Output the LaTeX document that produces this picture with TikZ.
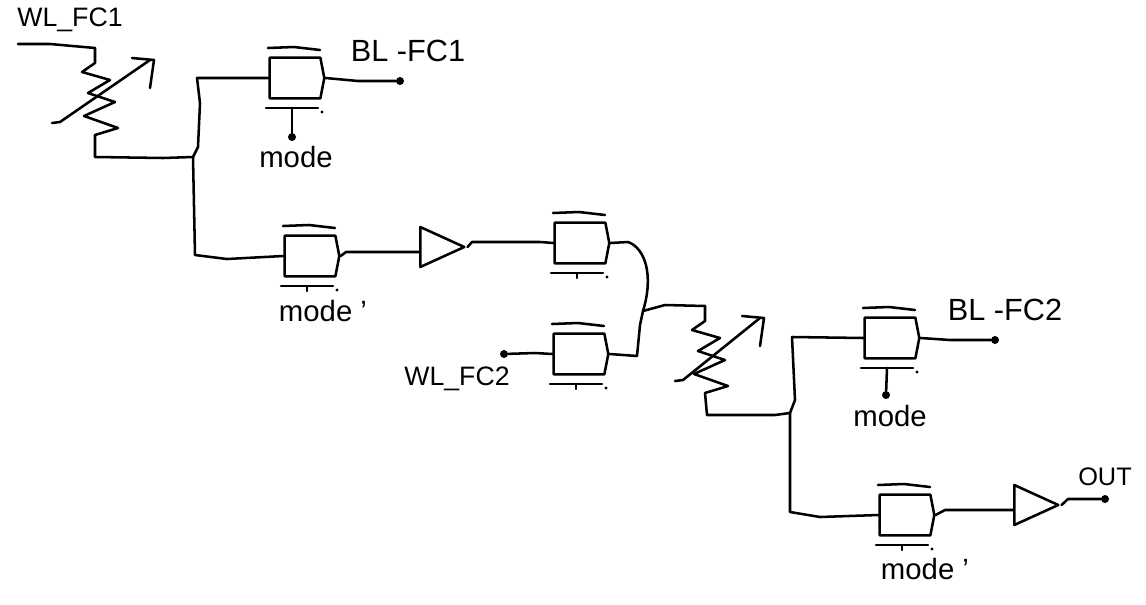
\documentclass[tikz,border=0pt]{standalone}
\usepackage{fontspec}
\setmainfont{Liberation Sans}
\usetikzlibrary{calc,positioning,shapes.geometric,shapes.symbols}
\tikzset{
  wire/.style={line width=1.9pt,line join=round,line cap=round},
  gatebody/.style={draw,wire,shape=signal,signal to=east,signal pointer angle=158,minimum width=41pt,minimum height=30.5pt,inner sep=0pt},
  bufbody/.style={draw,wire,isosceles triangle,isosceles triangle stretches,shape border rotate=0,minimum width=30pt,minimum height=33pt,inner sep=0pt,anchor=lower side},
  termdot/.style={circle,fill=black,inner sep=0pt,minimum size=6pt},
  lbl/.style={font=\fontsize{20}{24}\selectfont,inner sep=0pt},
  lblwide/.style={font=\fontsize{23}{27}\selectfont,inner sep=0pt},
  lblmode/.style={font=\fontsize{22}{26}\selectfont,inner sep=0pt},
  pics/passgate/.style={code={
    \node[gatebody] (-body) at (27,23) {};
    \coordinate (-ctl) at (24,53);
    \draw[wire] (0,-7) -- (26,-8) -- (52,-5);
    \draw[wire] (-2,53) -- (50,53);
    \draw[wire] (24,53) -- (24,58);
    \fill (54,57) circle (1.2pt);
  }},
  pics/varres/.style={code={
    \coordinate (-a) at (0,0);
    \coordinate (-b) at (0,87);
    \draw[wire] (0,0) -- (0,15) -- (-13,24) -- (15,32) -- (-7,45) -- (20,54) -- (-11,68) -- (23,80) -- (0,87);
    \draw[wire] (#1,75) -- (#1+8,74) -- (55,12);
    \draw[wire] (37,10) -- (59,12) -- (55,40);
  }}
}
\begin{document}
\begin{tikzpicture}[x=0.75pt,y=-0.75pt]
  \useasboundingbox (0,0) rectangle (1146,604);

  \coordinate (wl1) at (18,44);
  \pic (r1) at (95,48) {varres={-43}};
  \pic (g1) at (268,55) {passgate};
  \pic (g2) at (283,233) {passgate};
  \node[bufbody] (buf1) at (419,247) {};
  \pic (g3) at (553,220) {passgate};
  \pic (g4) at (552,331) {passgate};
  \pic (r2) at (705,306) {varres={-30}};
  \pic (g5) at (863,315) {passgate};
  \pic (g6) at (878,492) {passgate};
  \node[bufbody] (buf2) at (1013,505) {};

  \node[termdot] (blone) at (400,81) {};
  \node[termdot] (bltwo) at (995,340) {};
  \node[termdot] (wltwo) at (504,354) {};
  \node[termdot] (outdot) at (1105,499) {};
  \node[termdot] (modeone) at (292,137) {};
  \node[termdot] (modetwo) at (886,395) {};

  \node[lbl] (wlonetxt) at (70,20) {WL\_FC1};
  \node[lblwide] (blonetxt) at (408,51) {BL -FC1};
  \node[lblmode] (modeonetxt) at (296,157) {mode};
  \node[lblmode] (modeptxt) at (323,311) {mode '};
  \node[lbl] (wltwotxt) at (457,379) {WL\_FC2};
  \node[lblwide] (bltwotxt) at (1005,310) {BL -FC2};
  \node[lblmode] (modetwotxt) at (890,416) {mode};
  \node[lblmode] (modeqtxt) at (925,569) {mode '};
  \node[lbl,font=\fontsize{19}{23}\selectfont] (outtxt) at (1105,477) {OUT};

  \draw[wire] (wl1) -- (50,44) -- (r1-a);
  \draw[wire] (r1-b) -- (95,157) -- (163,158) -- (193,157) -- (198,147) -- (200,103) -- (197,78) -- (g1-body.west);
  \draw[wire] (193,157) -- (195,255) -- (227,259) -- (g2-body.west);
  \draw[wire] (g1-body.east) -- (358,81) -- (blone);
  \draw[wire] (g1-ctl) -- (modeone);
  \draw[wire] (g2-body.east) -- (346,252) -- ($(buf1.lower side)+(0,5)$);
  \draw[wire] (buf1.apex) -- (472,242) -- (540,242) -- (g3-body.west);
  \draw[wire] (wltwo) -- (535,353) -- (g4-body.west);
  \draw[wire] (g3-body.east) -- (628,242) .. controls (645,248) and (654,275) .. (643,311);
  \draw[wire] (g4-body.east) -- (637,356) -- (640,325) -- (643,311) -- (665,305) -- (r2-a);
  \draw[wire] (r2-b) -- (707,415) -- (775,415) -- (790,413) -- (795,400) -- (792,337) -- (g5-body.west);
  \draw[wire] (790,413) -- (790,512) -- (820,517) -- (g6-body.west);
  \draw[wire] (g5-body.east) -- (950,340) -- (bltwo);
  \draw[wire] (g5-ctl) -- (modetwo);
  \draw[wire] (g6-body.east) -- (945,510) -- ($(buf2.lower side)+(0,5)$);
  \draw[wire] (buf2.apex) -- (1068,499) -- (outdot);
\end{tikzpicture}
\end{document}
